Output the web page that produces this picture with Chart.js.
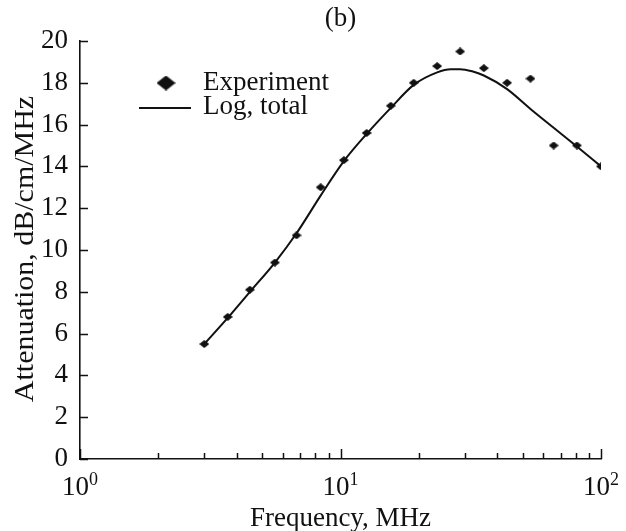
<!DOCTYPE html>
<html>
<head>
<meta charset="utf-8">
<script src="https://cdn.jsdelivr.net/npm/chart.js@4.4.1/dist/chart.umd.min.js"></script>
<style>
  html, body { margin: 0; padding: 0; background: #ffffff; }
  #wrap { width: 626px; height: 531px; }
</style>
</head>
<body>
<div id="wrap"><canvas id="chart" width="626" height="531"></canvas></div>
<script>
// Measured attenuation per frequency
const frequencyMHz   = [3.0, 3.69, 4.49, 5.6, 6.78, 8.39, 10.3, 12.6, 15.6, 19.1, 23.5, 28.8, 35.5, 43.6, 53.6, 65.8, 80.8, 100];
const attenuationExp = [5.5, 6.8, 8.1, 9.4, 10.7, 13.0, 14.3, 15.6, 16.9, 18.0, 18.8, 19.5, 18.7, 18.0, 18.2, 15.0, 15.0, 14.0];

// Logarithmic model, total attenuation
const fitFrequencyMHz = [3.0, 3.69, 4.49, 5.6, 6.78, 8.39, 10.3, 12.6, 15.6, 19.1, 23.5, 26.5, 28.8, 32, 35.5, 43.6, 53.6, 65.8, 80.8, 100];
const fitTotal        = [5.5, 6.75, 8.0, 9.4, 10.8, 12.6, 14.25, 15.55, 16.8, 17.9, 18.5, 18.65, 18.65, 18.55, 18.35, 17.7, 16.75, 15.85, 14.95, 14.0];

// Axis ticks
const xTickValues = [1, 2, 3, 4, 5, 6, 7, 8, 9, 10, 20, 30, 40, 50, 60, 70, 80, 90, 100];
const xDecades    = [1, 10, 100];
const yTickValues = [0, 2, 4, 6, 8, 10, 12, 14, 16, 18, 20];

const seriesLabels = ['Experiment', 'Log, total'];
const titleText  = '(b)';
const xTitleText = 'Frequency, MHz';
const yTitleText = 'Attenuation, dB/cm/MHz';

const INK = '#111111';
const SERIF = '"Liberation Serif", "Times New Roman", serif';

// Filled diamond used as point marker
function diamond(w, h) {
  const c = document.createElement('canvas');
  c.width = w; c.height = h;
  const g = c.getContext('2d');
  g.fillStyle = INK;
  g.beginPath();
  g.moveTo(w / 2, 0); g.lineTo(w, h / 2); g.lineTo(w / 2, h); g.lineTo(0, h / 2);
  g.closePath(); g.fill();
  return c;
}

const expPoints = frequencyMHz.map((f, i) => ({ x: f, y: attenuationExp[i] }));
const fitPoints = fitFrequencyMHz.map((f, i) => ({ x: f, y: fitTotal[i] }));

// Inward tick marks, decade labels with superscripts, y title and the legend
const axisDecor = {
  id: 'axisDecor',
  afterDraw(chart) {
    const { ctx, chartArea: a, scales: { x, y } } = chart;
    ctx.save();
    ctx.strokeStyle = INK;
    ctx.lineWidth = 1.5;
    ctx.beginPath();
    yTickValues.forEach(v => {
      const py = Math.round(y.getPixelForValue(v)) + 0.5;
      ctx.moveTo(a.left, py); ctx.lineTo(a.left + 8, py);
    });
    xTickValues.forEach(v => {
      const px = Math.round(x.getPixelForValue(v)) + 0.5;
      const len = xDecades.includes(v) ? 10 : 6;
      ctx.moveTo(px, a.bottom); ctx.lineTo(px, a.bottom - len);
    });
    ctx.stroke();

    ctx.fillStyle = INK;
    ctx.textBaseline = 'alphabetic';
    ctx.textAlign = 'left';
    xDecades.forEach(v => {
      const px = x.getPixelForValue(v);
      const base = '10';
      const exp = String(Math.round(Math.log10(v)));
      ctx.font = '27px ' + SERIF;
      const wb = ctx.measureText(base).width;
      ctx.font = '18px ' + SERIF;
      const we = ctx.measureText(exp).width;
      const left = px - (wb + we) / 2;
      ctx.font = '27px ' + SERIF;
      ctx.fillText(base, left, 495);
      ctx.font = '18px ' + SERIF;
      ctx.fillText(exp, left + wb, 485);
    });

    // y axis title, set slightly wide
    ctx.save();
    ctx.translate(33, (a.top + a.bottom) / 2 - 1);
    ctx.rotate(-Math.PI / 2);
    ctx.scale(1.11, 1);
    ctx.font = '27px ' + SERIF;
    ctx.textAlign = 'center';
    ctx.fillText(yTitleText, 0, 0);
    ctx.restore();

    // legend
    const mark = diamond(19, 15);
    ctx.drawImage(mark, 166 - 9.5, 83 - 7.5);
    ctx.lineWidth = 2;
    ctx.beginPath();
    ctx.moveTo(139, 108); ctx.lineTo(191, 108);
    ctx.stroke();
    ctx.font = '27px ' + SERIF;
    ctx.textAlign = 'left';
    ctx.fillText(chart.data.datasets[0].label, 203, 89.5);
    ctx.fillText(chart.data.datasets[1].label, 203, 113.5);
    ctx.restore();
  }
};

new Chart(document.getElementById('chart'), {
  type: 'scatter',
  data: {
    datasets: [
      {
        label: seriesLabels[0],
        data: expPoints,
        pointStyle: diamond(10, 8),
        pointRadius: 5,
        showLine: false,
        order: 0
      },
      {
        label: seriesLabels[1],
        data: fitPoints,
        showLine: true,
        borderColor: INK,
        borderWidth: 2,
        pointRadius: 0,
        cubicInterpolationMode: 'monotone',
        fill: false,
        order: 1
      }
    ]
  },
  options: {
    responsive: false,
    animation: false,
    devicePixelRatio: 1,
    layout: { padding: { left: 0, right: 25, top: 0, bottom: 0 } },
    plugins: {
      legend: { display: false },
      tooltip: { enabled: false },
      title: {
        display: true,
        text: titleText,
        fullSize: false,
        color: INK,
        font: { family: SERIF, size: 27, weight: 'normal', lineHeight: 1.2 },
        padding: { top: 3, bottom: 5.6 }
      }
    },
    scales: {
      x: {
        type: 'logarithmic',
        min: 1,
        max: 100,
        afterBuildTicks: s => { s.ticks = xTickValues.map(v => ({ value: v })); },
        afterFit: s => { s.height = 72; },
        grid: { drawOnChartArea: false, drawTicks: false },
        border: { display: true, color: INK, width: 1.6 },
        ticks: { display: false },
        title: {
          display: true,
          text: xTitleText,
          color: INK,
          font: { family: SERIF, size: 27, weight: 'normal', lineHeight: 0.9 },
          padding: { top: 0, bottom: 0 }
        }
      },
      y: {
        type: 'linear',
        min: 0,
        max: 20,
        afterBuildTicks: s => { s.ticks = yTickValues.map(v => ({ value: v })); },
        afterFit: s => { s.width = 80; },
        grid: { drawOnChartArea: false, drawTicks: false },
        border: { display: true, color: INK, width: 1.6 },
        ticks: {
          color: INK,
          padding: 12,
          font: { family: SERIF, size: 27, weight: 'normal' }
        },
        title: { display: false }
      }
    }
  },
  plugins: [axisDecor]
});
</script>
</body>
</html>
